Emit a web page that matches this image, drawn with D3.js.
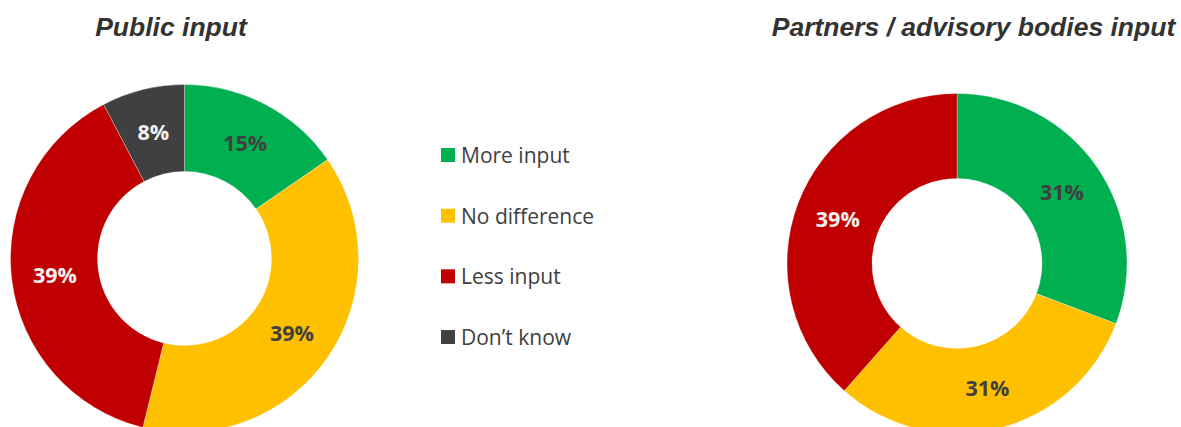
<!DOCTYPE html>
<html>
<head>
<meta charset="utf-8">
<script src="https://cdn.jsdelivr.net/npm/d3@7"></script>
<style>
  body { margin: 0; background: #fff; }
  svg { display: block; }
  .chart-title { font-family: Arial, "Liberation Sans", sans-serif; font-weight: bold; font-style: italic; font-size: 26.5px; fill: #333; text-anchor: middle; }
  .slice-label { font-family: "Open Sans", sans-serif; font-weight: bold; font-size: 21.5px; text-anchor: middle; dominant-baseline: central; }
  .legend text { font-family: "Open Sans", sans-serif; font-size: 21px; fill: #404040; dominant-baseline: central; }
</style>
</head>
<body>
<div id="chart"></div>
<script>
// categories and colours
var categories = ['More input', 'No difference', 'Less input', 'Don\u2019t know'];
var colours = ['#00B050', '#FFC000', '#C00000', '#404040'];
var labelColours = ['#404040', '#404040', '#F2F2F2', '#F2F2F2'];

// series values (percent of respondents)
var publicValues = [15.4, 38.5, 38.5, 7.7];
var partnerValues = [30.8, 30.8, 38.5];

var titles = ['Public input', 'Partners / advisory bodies input'];

var width = 1181, height = 427;

var svg = d3.select('#chart').append('svg')
    .attr('width', width)
    .attr('height', height);

var colour = d3.scaleOrdinal().domain(categories).range(colours);
var labelColour = d3.scaleOrdinal().domain(categories).range(labelColours);
var fmt = function (v) { return d3.format('.0f')(v) + '%'; };

// reusable donut
function drawDonut(values, cx, cy, outer, inner, title, titleX) {
    var data = values.map(function (v, i) { return { key: categories[i], value: v }; });
    var pie = d3.pie().sort(null).value(function (d) { return d.value; });
    var arc = d3.arc().innerRadius(inner).outerRadius(outer);
    var labelArc = d3.arc().innerRadius((inner + outer) / 2).outerRadius((inner + outer) / 2);

    svg.append('text')
        .attr('class', 'chart-title')
        .attr('x', titleX)
        .attr('y', 36)
        .text(title);

    var g = svg.append('g')
        .attr('transform', 'translate(' + cx + ',' + cy + ')');

    g.selectAll('path')
        .data(pie(data))
        .enter().append('path')
        .attr('d', arc)
        .attr('fill', function (d) { return colour(d.data.key); })
        .attr('stroke', '#fff')
        .attr('stroke-width', 0.3);

    g.selectAll('text')
        .data(pie(data))
        .enter().append('text')
        .attr('class', 'slice-label')
        .attr('transform', function (d) { return 'translate(' + labelArc.centroid(d) + ')'; })
        .attr('fill', function (d) { return labelColour(d.data.key); })
        .text(function (d) { return fmt(d.data.value); });
}

drawDonut(publicValues, 184.5, 258.5, 174, 87, titles[0], 171);
drawDonut(partnerValues, 957, 263.5, 170, 85, titles[1], 973.5);

// legend
var legendY = d3.scalePoint().domain(categories).range([155, 337]);
var legend = svg.append('g').attr('class', 'legend');
var items = legend.selectAll('g')
    .data(categories)
    .enter().append('g')
    .attr('transform', function (d) { return 'translate(441,' + legendY(d) + ')'; });

items.append('rect')
    .attr('x', 0)
    .attr('y', -7)
    .attr('width', 14)
    .attr('height', 14)
    .attr('fill', function (d) { return colour(d); });

items.append('text')
    .attr('x', 20)
    .attr('y', 0)
    .text(function (d) { return d; });
</script>
</body>
</html>
